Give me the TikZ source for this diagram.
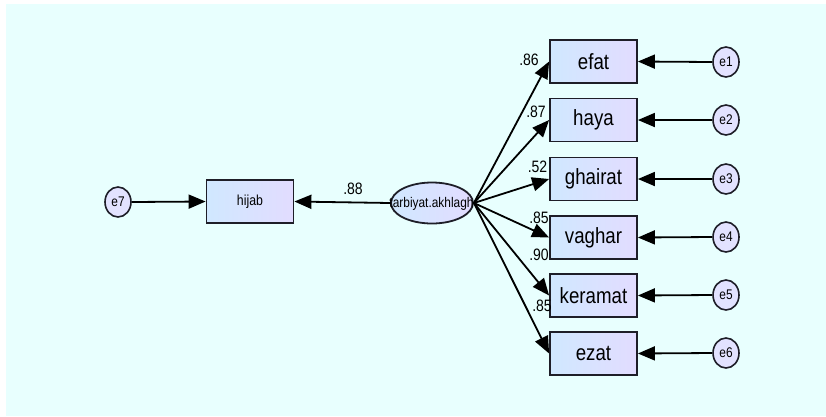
\documentclass[tikz,border=0pt]{standalone}
\usepackage{fontspec}
\usepackage{graphicx}
\setmainfont{Liberation Sans}
\usetikzlibrary{arrows.meta,shapes.geometric}
\definecolor{bgc}{RGB}{232,255,254}
\definecolor{boxl}{RGB}{208,232,255}
\definecolor{boxr}{RGB}{226,220,255}
\definecolor{circ}{RGB}{226,226,255}
\definecolor{edge}{RGB}{30,30,40}
\newcommand{\cndtxt}[2]{\scalebox{0.85}[1]{\fontsize{#1}{#1}\selectfont #2}}
\begin{document}
\begin{tikzpicture}[x=1pt,y=-1pt,
  obs/.style={draw=edge, line width=1.8pt, left color=boxl, right color=boxr,
    minimum width=87pt, minimum height=43pt, inner sep=0pt},
  err/.style={ellipse, draw=edge, line width=1.6pt, fill=circ,
    minimum width=26pt, minimum height=30pt, inner sep=0pt},
  lat/.style={ellipse, draw=edge, line width=1.8pt, left color=boxl, right color=boxr,
    minimum width=82pt, minimum height=41pt, inner sep=0pt},
  pth/.style={line width=1.8pt, draw=black, -{Triangle[length=17pt,width=14pt]}},
  coef/.style={inner sep=0pt}
]
\useasboundingbox (0,0) rectangle (826,416);
\fill[white] (0,0) rectangle (826,416);
\fill[bgc] (6,4) rectangle (826,416);

% latent
\node[lat] (lat) at (432,203) {};
% observed
\node[obs] (hijab) at (250,201.5) {\cndtxt{14.5}{hijab}};
\node[obs] (efat) at (593.5,61.5) {\cndtxt{22}{efat}};
\node[obs] (haya) at (593.5,120) {\cndtxt{22}{haya}};
\node[obs] (ghairat) at (593.5,179) {\cndtxt{22}{ghairat}};
\node[obs] (vaghar) at (593.5,237.5) {\cndtxt{22}{vaghar}};
\node[obs] (keramat) at (593.5,295.5) {\cndtxt{22}{keramat}};
\node[obs] (ezat) at (593.5,353.5) {\cndtxt{22}{ezat}};
% errors
\node[err] (e7) at (118,202) {\cndtxt{14}{e7}};
\node[err] (e1) at (726,62) {\cndtxt{14}{e1}};
\node[err] (e2) at (726,120) {\cndtxt{14}{e2}};
\node[err] (e3) at (726,179) {\cndtxt{14}{e3}};
\node[err] (e4) at (726,237) {\cndtxt{14}{e4}};
\node[err] (e5) at (726,295) {\cndtxt{14}{e5}};
\node[err] (e6) at (726,353) {\cndtxt{14}{e6}};

% paths
\draw[pth] (e7.east) -- (hijab.west);
\draw[pth] (lat.west) -- (hijab.east);
\foreach \t in {efat,haya,ghairat,vaghar,keramat,ezat}{
  \draw[pth] (lat.east) -- (\t.west);
}
\draw[pth] (e1.west) -- (efat.east);
\draw[pth] (e2.west) -- (haya.east);
\draw[pth] (e3.west) -- (ghairat.east);
\draw[pth] (e4.west) -- (vaghar.east);
\draw[pth] (e5.west) -- (keramat.east);
\draw[pth] (e6.west) -- (ezat.east);

% latent label drawn on top
\node[inner sep=0pt] (latlabel) at (431.5,204) {\cndtxt{14}{tarbiyat.akhlagh}};

% coefficients
\node[coef] (c0) at (353,189) {\cndtxt{16.5}{.88}};
\node[coef] (c1) at (529,60) {\cndtxt{16.5}{.86}};
\node[coef] (c2) at (536,112) {\cndtxt{16.5}{.87}};
\node[coef] (c3) at (537.5,167) {\cndtxt{16.5}{.52}};
\node[coef] (c4) at (539,218) {\cndtxt{16.5}{.85}};
\node[coef] (c5) at (539,255) {\cndtxt{16.5}{.90}};
\node[coef] (c6) at (542,306) {\cndtxt{16.5}{.85}};
\end{tikzpicture}
\end{document}
